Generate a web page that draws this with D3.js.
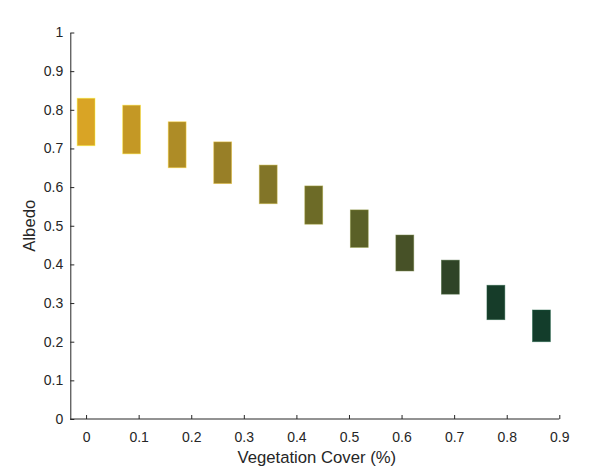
<!DOCTYPE html>
<html>
<head>
<meta charset="utf-8">
<script src="https://cdn.jsdelivr.net/npm/d3@7"></script>
<style>
  body { margin: 0; background: #fff; }
  svg { display: block; font-family: "Liberation Sans", Arial, sans-serif; }
</style>
</head>
<body>
<svg id="chart" width="593" height="476"></svg>
<script>
const cover = [0, 0.0866, 0.1732, 0.2598, 0.3464, 0.433, 0.5196, 0.6062, 0.6928, 0.7794, 0.866];
const albedoHigh = [0.830, 0.812, 0.769, 0.717, 0.657, 0.603, 0.541, 0.476, 0.411, 0.346, 0.282];
const albedoLow  = [0.707, 0.686, 0.650, 0.609, 0.557, 0.504, 0.444, 0.383, 0.323, 0.257, 0.200];
const barColors = ["#D9A425", "#C49825", "#AE8C26", "#987F27", "#827528", "#6D6B27",
                   "#5A6027", "#475127", "#2F4427", "#163C29", "#133D2B"];
const xTicks = [0, 0.1, 0.2, 0.3, 0.4, 0.5, 0.6, 0.7, 0.8, 0.9];
const yTicks = [0, 0.1, 0.2, 0.3, 0.4, 0.5, 0.6, 0.7, 0.8, 0.9, 1];
const barWidth = 0.034;

const svg = d3.select("#chart");
const x = d3.scaleLinear().domain([-0.03, 0.9]).range([70.3, 559.3]);
const y = d3.scaleLinear().domain([0, 1]).range([419, 32.5]);
const axisColor = "#262626";

// bars
svg.append("g").selectAll("rect")
  .data(cover.map((c, i) => ({c, hi: albedoHigh[i], lo: albedoLow[i], col: barColors[i]})))
  .join("rect")
  .attr("x", d => x(d.c - barWidth / 2))
  .attr("width", d => x(d.c + barWidth / 2) - x(d.c - barWidth / 2))
  .attr("y", d => y(d.hi))
  .attr("height", d => y(d.lo) - y(d.hi))
  .attr("fill", d => d.col)
  .attr("stroke", d => d3.color(d.col).brighter(1.2))
  .attr("stroke-opacity", 0.6)
  .attr("stroke-width", 0.8);

// x axis
const xAxis = svg.append("g").attr("transform", `translate(0,${y(0)})`)
  .call(d3.axisBottom(x).tickValues(xTicks).tickFormat(d3.format("~g")).tickSizeInner(-4).tickSizeOuter(0).tickPadding(13));
xAxis.select(".domain").attr("stroke", axisColor).attr("d", `M${x(-0.03)},0H${x(0.9)}`);
xAxis.selectAll(".tick line").attr("stroke", axisColor);
xAxis.selectAll("text").attr("fill", axisColor).attr("font-size", 14);

// y axis
const yAxis = svg.append("g").attr("transform", `translate(${x(-0.03)},0)`)
  .call(d3.axisLeft(y).tickValues(yTicks).tickFormat(d3.format("~g")).tickSizeInner(-4).tickSizeOuter(0).tickPadding(7));
yAxis.select(".domain").attr("stroke", axisColor);
yAxis.selectAll(".tick line").attr("stroke", axisColor);
yAxis.selectAll("text").attr("fill", axisColor).attr("font-size", 14);

// labels
svg.append("text")
  .attr("x", (x(-0.03) + x(0.9)) / 2 + 2)
  .attr("y", 462.5)
  .attr("text-anchor", "middle")
  .attr("fill", axisColor)
  .attr("font-size", 16.7)
  .text("Vegetation Cover (%)");

svg.append("text")
  .attr("transform", `translate(35,${(y(0) + y(1)) / 2}) rotate(-90)`)
  .attr("text-anchor", "middle")
  .attr("fill", axisColor)
  .attr("font-size", 16.7)
  .text("Albedo");
</script>
</body>
</html>
